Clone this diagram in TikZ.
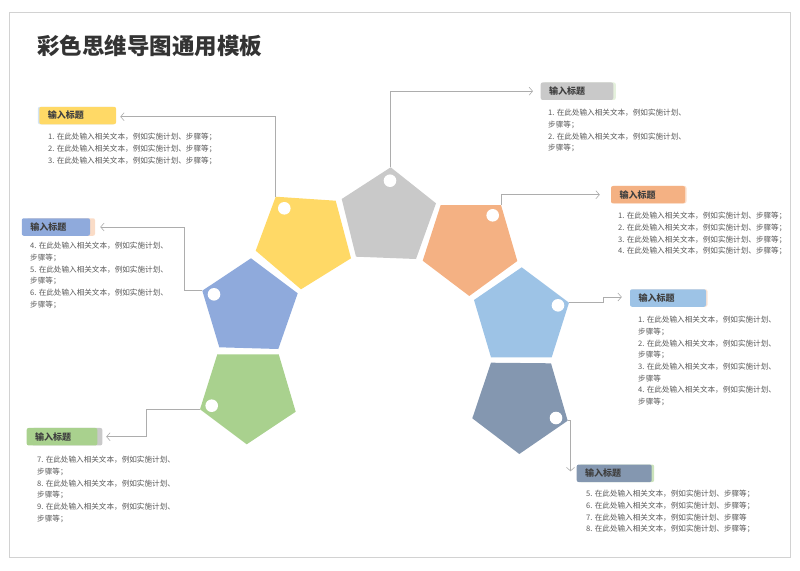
\documentclass[tikz,border=0pt]{standalone}
\usepackage{fontspec}
\setmainfont{Noto Sans CJK SC}
\usetikzlibrary{arrows.meta,shadows}
\definecolor{ylw}{HTML}{FFD966}
\definecolor{gry}{HTML}{C9C9C9}
\definecolor{org}{HTML}{F4B183}
\definecolor{lbl}{HTML}{9DC3E6}
\definecolor{slt}{HTML}{8497B0}
\definecolor{blu}{HTML}{8FAADC}
\definecolor{grn}{HTML}{A9D18E}
\definecolor{linec}{HTML}{ADADAD}
\definecolor{bodytxt}{HTML}{595959}
\definecolor{hdrtxt}{HTML}{404040}
\definecolor{titletxt}{HTML}{333333}
\tikzset{
  con/.style={draw=linec, line width=0.6pt, -{Straight Barb[length=3.5pt,width=8pt]}},
  hdr/.style={rounded corners=2pt, inner xsep=8.5pt, inner ysep=0pt, minimum height=17.5pt,
    align=left, font=\fontsize{9}{10}\selectfont\bfseries, text=hdrtxt},
  lst/.style={anchor=north west, inner sep=0pt, align=left, text=bodytxt,
    font=\fontsize{7.6}{11.7}\selectfont},
  hole/.style={fill=white},
}
\begin{document}
\begin{tikzpicture}[x=1pt,y=-1pt]
\useasboundingbox (0,0) rectangle (800,570);
\draw[gray!35, line width=0.6pt] (9,12) rectangle (790,557);

\node[anchor=west, inner sep=0pt, text=titletxt, font=\fontsize{22.5}{24}\selectfont\bfseries] (title) at (37,46) {彩色思维导图通用模板};

% pentagons
\fill[ylw] (275.7,196.7) coordinate (p1) -- (335.7,200.7) -- (351,258.3) -- (301,289.3) -- (255.7,250.7) -- cycle;
\fill[gry] (390.7,167.3) coordinate (p2) -- (436,203.3) -- (416,259) -- (356,256.7) -- (341.7,199) -- cycle;
\fill[org] (440.7,205) -- (501,205) coordinate (p3) -- (517.3,261) -- (469.3,296) -- (422.7,260.7) -- cycle;
\fill[lbl] (521.7,267.3) -- (569,302.7) coordinate (p4) -- (551.7,357.3) -- (491,357.3) -- (474,300) -- cycle;
\fill[slt] (491,362.7) -- (551,363.3) -- (567.7,420.7) coordinate (p5) -- (519.3,454) -- (472.3,418.3) -- cycle;
\fill[blu] (251,258.3) -- (297.7,293.3) -- (278.3,349) -- (219.3,347.3) -- (202.3,290.7) coordinate (p6) -- cycle;
\fill[grn] (217.3,354.3) -- (278.7,354.3) -- (295.7,411.7) -- (246.7,444.3) -- (200,409.3) coordinate (p7) -- cycle;

\fill[hole] (284.3,208.3) circle (6.3);
\fill[hole] (390,180.7) circle (6.3);
\fill[hole] (492.7,215.3) circle (6.3);
\fill[hole] (558,305.3) circle (6.3);
\fill[hole] (556,418) circle (6.3);
\fill[hole] (214,294.3) circle (6.3);
\fill[hole] (211.7,405.7) circle (6.3);

% header boxes
\node[hdr, fill=ylw, text width=59.7pt, general shadow={fill=lbl!45, shadow xshift=-1.5pt}] (h1) at (77.7,115.5) {输入标题};
\node[hdr, fill=blu, text width=51.3pt, general shadow={fill=org!45, shadow xshift=5pt}] (h2) at (55.9,227) {输入标题};
\node[hdr, fill=grn, text width=53.6pt, general shadow={fill=gry, shadow xshift=5pt}] (h3) at (62,436.7) {输入标题};
\node[hdr, fill=gry, text width=55.6pt, general shadow={fill=grn!30, shadow xshift=2.5pt}] (h4) at (577,91.2) {输入标题};
\node[hdr, fill=org, text width=57pt, general shadow={fill=org!40, shadow xshift=1.5pt}] (h5) at (648,194.7) {输入标题};
\node[hdr, fill=lbl, text width=59pt, general shadow={fill=org!35, shadow xshift=1.5pt}] (h6) at (668,298) {输入标题};
\node[hdr, fill=slt, text width=58pt, general shadow={fill=grn!60, shadow xshift=2.5pt}] (h7) at (614.2,473.3) {输入标题};

% lists
\node[lst] (l1) at (48,133) {1. 在此处输入相关文本，例如实施计划、步骤等；\\2. 在此处输入相关文本，例如实施计划、步骤等；\\3. 在此处输入相关文本，例如实施计划、步骤等；};
\node[lst] (l2) at (30,242) {4. 在此处输入相关文本，例如实施计划、\\步骤等；\\5. 在此处输入相关文本，例如实施计划、\\步骤等；\\6. 在此处输入相关文本，例如实施计划、\\步骤等；};
\node[lst] (l3) at (37,456) {7. 在此处输入相关文本，例如实施计划、\\步骤等；\\8. 在此处输入相关文本，例如实施计划、\\步骤等；\\9. 在此处输入相关文本，例如实施计划、\\步骤等；};
\node[lst] (l4) at (548,109) {1. 在此处输入相关文本，例如实施计划、\\步骤等；\\2. 在此处输入相关文本，例如实施计划、\\步骤等；};
\node[lst] (l5) at (618,212) {1. 在此处输入相关文本，例如实施计划、步骤等；\\2. 在此处输入相关文本，例如实施计划、步骤等；\\3. 在此处输入相关文本，例如实施计划、步骤等；\\4. 在此处输入相关文本，例如实施计划、步骤等；};
\node[lst] (l6) at (638,316) {1. 在此处输入相关文本，例如实施计划、\\步骤等；\\2. 在此处输入相关文本，例如实施计划、\\步骤等；\\3. 在此处输入相关文本，例如实施计划、\\步骤等\\4. 在此处输入相关文本，例如实施计划、\\步骤等；};
\node[lst] (l7) at (586,490) {5. 在此处输入相关文本，例如实施计划、步骤等；\\6. 在此处输入相关文本，例如实施计划、步骤等；\\7. 在此处输入相关文本，例如实施计划、步骤等\\8. 在此处输入相关文本，例如实施计划、步骤等；};

% connectors
\draw[con] (p1) |- ([xshift=4pt,yshift=-1.2pt]h1.east);
\draw[con] (p2) |- ([xshift=-7.5pt]h4.west);
\draw[con] (p3) |- ([xshift=-11pt]h5.west);
\draw[con] (p4) -- ++(34,0) |- ([xshift=-8pt,yshift=1pt]h6.west);
\draw[con] (p5) -| ([xshift=-6pt,yshift=2pt]h7.west);
\draw[con] (p6) -- ++(-18.3,0) |- ([xshift=10pt]h2.east);
\draw[con] (p7) -- ++(-54,0) |- ([xshift=8.7pt]h3.east);
\end{tikzpicture}
\end{document}
